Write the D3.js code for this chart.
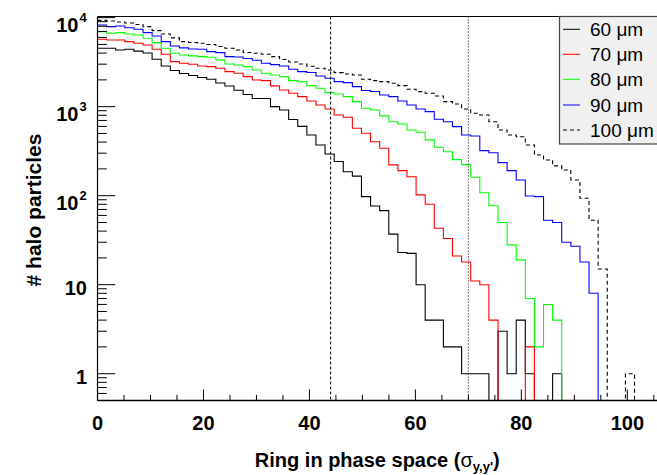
<!DOCTYPE html>
<html>
<head>
<meta charset="utf-8">
<script src="https://cdn.jsdelivr.net/npm/d3@7"></script>
<style>
  html, body { margin: 0; padding: 0; background: #fff; }
  svg { display: block; }
  text { font-family: "Liberation Sans", Arial, Helvetica, sans-serif; }
</style>
</head>
<body>
<div id="chart"></div>
<script>
// ---------------- data ----------------
const binStart = 0;
const binWidth = 1.718;           // width of one ring bin (sigma units)
const seriesNames = ["60 \u03bcm", "70 \u03bcm", "80 \u03bcm", "90 \u03bcm", "100 \u03bcm"];
const seriesColors = ["#000000", "#ff0000", "#00ff00", "#0000ff", "#000000"];
const seriesDash = [null, null, null, null, "4,3"];

const counts60 = [4530, 4530, 4335, 4415, 4204, 4013, 3410, 2867, 2551, 2360,
                  2242, 2130, 2032, 1846, 1709, 1528, 1371, 1237, 1237, 1000,
                  918, 718, 600, 481, 371, 294, 242, 186, 166, 97.5,
                  76.6, 68, 37, 23, 22.5, 10, 4, 4, 2, 2,
                  1, 1, 1, 0, 3, 1, 4, 1, 0, 0,
                  1, 0, 0, 0, 0, 0, 0, 0, 0, 0, 0, 0];
const counts70 = [5717, 5616, 5616, 5373, 5155, 4933, 4415, 3880, 3206, 3076,
                  2994, 2867, 2814, 2700, 2472, 2372, 2173, 1995, 1960, 1710,
                  1541, 1415, 1295, 1159, 1045, 942, 807, 760, 572, 502,
                  404, 341, 222, 191, 163, 102, 80, 43, 33, 21,
                  18, 11, 10, 4, 0, 0, 0, 2, 0, 0,
                  0, 0, 0, 0, 0, 0, 0, 0, 0, 0, 0, 0];
const counts80 = [6964, 6680, 6780, 6560, 6393, 5870, 5240, 4530, 3981, 3810,
                  3715, 3648, 3592, 3350, 3020, 2943, 2814, 2585, 2372, 2270,
                  2173, 1960, 1910, 1722, 1610, 1436, 1390, 1295, 1138, 959,
                  918, 787, 678, 639, 547, 516, 423, 350, 312, 254,
                  223, 161, 108, 77, 50, 28, 19, 7, 2, 6,
                  4, 0, 0, 0, 0, 0, 0, 0, 0, 0, 0, 0];
const counts90 = [8279, 7925, 8070, 7705, 7410, 6780, 6225, 5373, 4808, 4570,
                  4450, 4415, 4150, 4045, 3648, 3615, 3480, 3320, 3076, 2965,
                  2867, 2630, 2472, 2422, 2213, 2085, 1910, 1862, 1678, 1521,
                  1482, 1353, 1295, 1159, 1045, 942, 879, 722, 678, 596,
                  481, 469, 321, 304, 235, 191, 150, 99, 97.5, 53,
                  50, 30, 27, 18, 8, 0, 0, 0, 0, 0, 0, 0];
const counts100 = [9306, 9180, 8950, 8716, 8390, 7925, 7145, 6560, 5918, 5373,
                   5260, 5155, 5000, 4746, 4530, 4335, 4064, 3981, 3880, 3648,
                   3390, 3177, 3020, 2844, 2700, 2585, 2410, 2330, 2270, 2032,
                   1960, 1910, 1832, 1722, 1570, 1474, 1415, 1320, 1138, 1072,
                   942, 843, 807, 678, 547, 481, 460, 371, 286, 252,
                   216, 194, 150, 93.5, 53, 15, 0, 0, 1, 0, 0, 0];
const allCounts = [counts60, counts70, counts80, counts90, counts100];

const xTickValues = [0, 20, 40, 60, 80, 100];
const yMajorTicks = [1, 10, 100, 1000, 10000];
const yTickLabels = [{base: "1"}, {base: "10"}, {base: "10", exp: "2"}, {base: "10", exp: "3"}, {base: "10", exp: "4"}];
const cutPositions = [44, 70];
const cutDash = ["3,2", "1,2"];
const xTitle = "Ring in phase space (";
const yTitle = "# halo particles";

// ---------------- layout ----------------
const W = 657, H = 475;
const L = 97.5, R = 657, T = 16.5, B = 400.5;

const svg = d3.select("#chart").append("svg").attr("width", W).attr("height", H);

const x = d3.scaleLinear().domain([0, 105.6]).range([L, R]);
const y = d3.scaleLog().domain([0.5, 10300]).range([B, T]).clamp(true);

// clip
svg.append("clipPath").attr("id", "clip").append("rect")
  .attr("x", L).attr("y", T - 2).attr("width", R - L + 2).attr("height", B - T + 4);

// histograms
const line = d3.line()
  .x(d => x(d[0]))
  .y(d => d[1] > 0 ? y(d[1]) : B);

const gH = svg.append("g").attr("clip-path", "url(#clip)");
allCounts.forEach((vals, s) => {
  const pts = [];
  vals.forEach((v, i) => {
    const x0 = binStart + i * binWidth;
    pts.push([x0, v], [x0 + binWidth, v]);
  });
  gH.append("path")
    .attr("d", line(pts))
    .attr("fill", "none")
    .attr("stroke", seriesColors[s])
    .attr("stroke-width", 1.1)
    .attr("stroke-dasharray", seriesDash[s]);
});

// cut lines
cutPositions.forEach((c, i) => {
  svg.append("line")
    .attr("x1", x(c)).attr("x2", x(c)).attr("y1", T).attr("y2", B)
    .attr("stroke", "#000").attr("stroke-width", 1)
    .attr("stroke-dasharray", cutDash[i]);
});

// frame
svg.append("line").attr("x1", L).attr("x2", R).attr("y1", T).attr("y2", T).attr("stroke", "#000");
svg.append("line").attr("x1", L).attr("x2", R).attr("y1", B).attr("y2", B).attr("stroke", "#000").attr("stroke-width", 1.6);
svg.append("line").attr("x1", L).attr("x2", L).attr("y1", T).attr("y2", B).attr("stroke", "#000").attr("stroke-width", 1.2);

// x ticks (inside)
const xMinor = d3.range(0, 106, 5);
xMinor.forEach(v => {
  const major = v % 20 === 0;
  svg.append("line").attr("x1", x(v)).attr("x2", x(v))
    .attr("y1", B).attr("y2", B - (major ? 11 : 5.7))
    .attr("stroke", "#000").attr("stroke-width", 1);
});
xTickValues.forEach(v => {
  svg.append("text").attr("x", x(v)).attr("y", 430)
    .attr("text-anchor", "middle").attr("font-weight", "bold")
    .attr("font-size", 20).text(v);
});

// y ticks (inside)
const yMinor = [];
[0.1, 1, 10, 100, 1000].forEach(d => {
  for (let k = 2; k <= 9; k++) {
    const v = k * d;
    if (v >= 0.5 && v <= 10300) yMinor.push(v);
  }
});
yMinor.forEach(v => {
  svg.append("line").attr("x1", L).attr("x2", L + 9.3)
    .attr("y1", y(v)).attr("y2", y(v)).attr("stroke", "#000").attr("stroke-width", 1);
});
yMajorTicks.forEach((v, i) => {
  svg.append("line").attr("x1", L).attr("x2", L + 17.7)
    .attr("y1", y(v)).attr("y2", y(v)).attr("stroke", "#000").attr("stroke-width", 1);
  const lab = yTickLabels[i];
  const ty = y(v);
  if (lab.exp) {
    svg.append("text").attr("x", 78.5).attr("y", ty + 14)
      .attr("text-anchor", "end").attr("font-weight", "bold").attr("font-size", 20).text(lab.base);
    svg.append("text").attr("x", 79.5).attr("y", ty + 4.5)
      .attr("text-anchor", "start").attr("font-weight", "bold").attr("font-size", 13).text(lab.exp);
  } else {
    svg.append("text").attr("x", 87).attr("y", ty + 10)
      .attr("text-anchor", "end").attr("font-weight", "bold").attr("font-size", 20).text(lab.base);
  }
});

// axis titles
const xt = svg.append("text").attr("x", (L + R) / 2).attr("y", 467)
  .attr("text-anchor", "middle").attr("font-weight", "bold").attr("font-size", 20);
xt.append("tspan").text(xTitle);
xt.append("tspan").attr("font-weight", "normal").text("\u03c3");
xt.append("tspan").attr("font-size", 13).attr("dy", 4).text("y,y'");
xt.append("tspan").attr("dy", -4).text(")");

svg.append("text")
  .attr("transform", "translate(41,210) rotate(-90)")
  .attr("text-anchor", "middle").attr("font-weight", "bold").attr("font-size", 21)
  .text(yTitle);

// legend
const lg = svg.append("g");
lg.append("rect").attr("x", 559.5).attr("y", T).attr("width", 110).attr("height", 127.5)
  .attr("fill", "#f0f0f0").attr("stroke", "#444").attr("stroke-width", 1.2);
const legY = [29.3, 54.3, 79.3, 105, 130];
seriesNames.forEach((n, i) => {
  lg.append("line").attr("x1", 563).attr("x2", 580).attr("y1", legY[i]).attr("y2", legY[i])
    .attr("stroke", seriesColors[i]).attr("stroke-width", 1)
    .attr("stroke-dasharray", seriesDash[i]);
  lg.append("text").attr("x", 590).attr("y", legY[i] + 6.5)
    .attr("font-size", 19).text(n);
});
</script>
</body>
</html>
